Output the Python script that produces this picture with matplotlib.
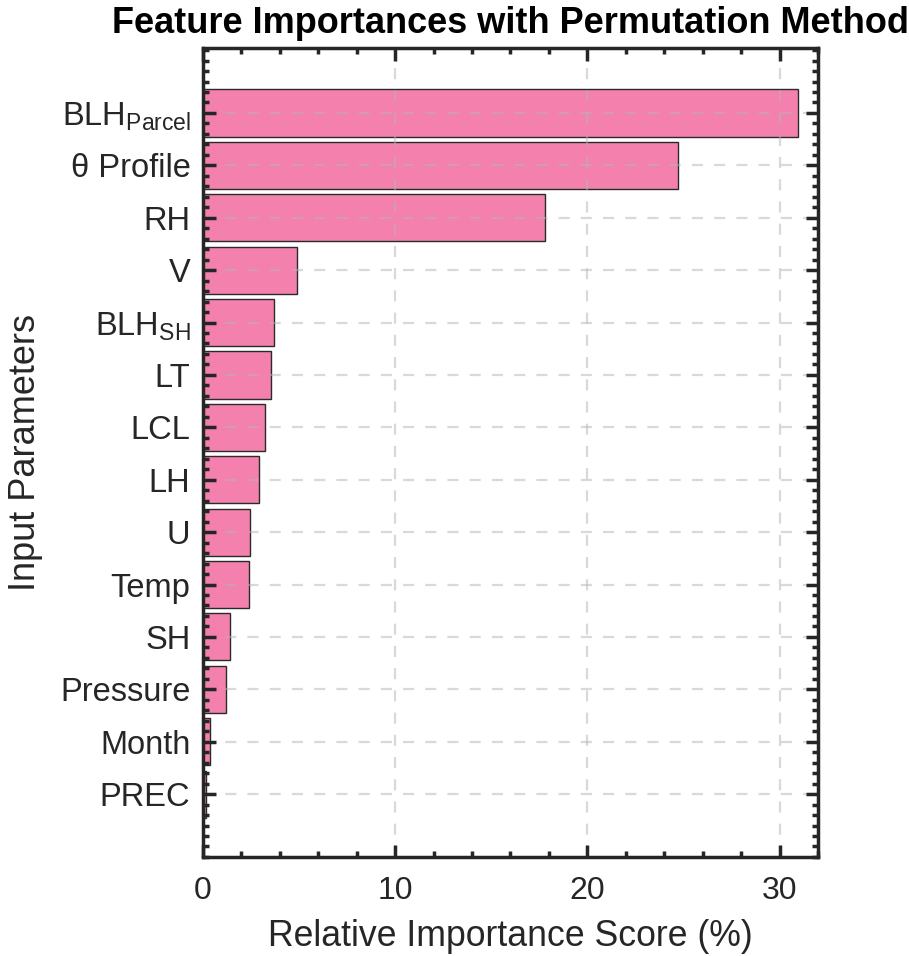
import matplotlib
matplotlib.use("Agg")
import matplotlib.pyplot as plt
from matplotlib.ticker import MultipleLocator

plt.rcParams['font.family'] = ['Liberation Sans', 'DejaVu Sans']
plt.rcParams['mathtext.fontset'] = 'custom'
plt.rcParams['mathtext.rm'] = 'Liberation Sans'

features = [r'BLH$_\mathregular{Parcel}$', 'θ Profile', 'RH', 'V', r'BLH$_\mathregular{SH}$',
            'LT', 'LCL', 'LH', 'U', 'Temp', 'SH', 'Pressure', 'Month', 'PREC']
importance = [30.98, 24.74, 17.78, 4.90, 3.69, 3.55, 3.22, 2.91, 2.44, 2.39, 1.40, 1.18, 0.36, 0.14]
xticks = [0, 10, 20, 30]

fig = plt.figure(figsize=(9.09, 9.56), dpi=100)
ax = fig.add_axes([0.2233, 0.1036, 0.6766, 0.8462])

n = len(features)
pos = list(range(n - 1, -1, -1))
ax.barh(pos, importance, height=0.9, color='#F480AD', edgecolor='#2a2a2a', linewidth=1.0, zorder=1)

ax.set_xlim(0, 32)
ax.set_ylim(-1.2, n - 1 + 1.24)
ax.set_xticks(xticks)
ax.xaxis.set_minor_locator(MultipleLocator(2))
ax.set_yticks(pos)
ax.set_yticklabels(features)
ax.yaxis.set_minor_locator(MultipleLocator(0.2))

ax.grid(True, which='major', linestyle=(0, (5, 5)), color='#b5b5b5', alpha=0.5, linewidth=1.6, zorder=3)
ax.set_axisbelow(False)

for s in ax.spines.values():
    s.set_linewidth(2.5)
    s.set_color('#262626')
    s.set_zorder(5)

ax.tick_params(which='both', direction='in', top=True, right=True, color='#262626', width=2.5)
ax.tick_params(which='major', length=9)
ax.tick_params(which='minor', length=4.5)
ax.tick_params(axis='y', labelsize=23.5, labelcolor='#262626', pad=9)
ax.tick_params(axis='x', labelsize=23, labelcolor='#262626', pad=14)

ax.set_xlabel('Relative Importance Score (%)', fontsize=25.7, color='#262626', labelpad=9)
ax.set_ylabel('Input Parameters', fontsize=26, color='#262626', labelpad=12)
ax.set_title('Feature Importances with Permutation Method', fontsize=26, fontweight='bold', pad=11)

fig.savefig('out.png', dpi=100)
